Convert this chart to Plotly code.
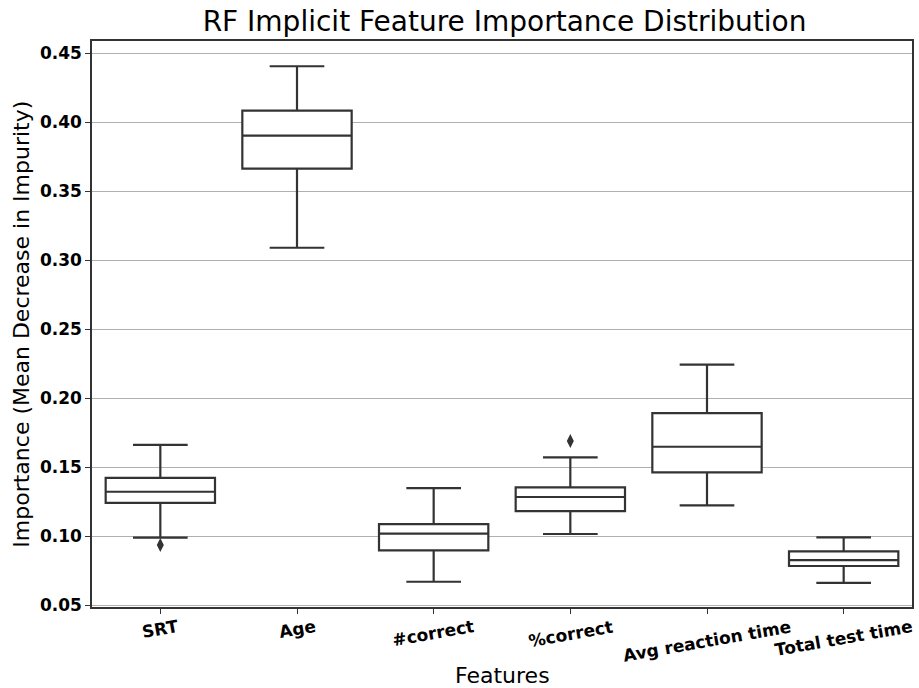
import plotly.graph_objects as go

features = ["SRT", "Age", "#correct", "%correct", "Avg reaction time", "Total test time"]
lower_whisker = [0.0988, 0.3089, 0.0669, 0.1015, 0.1222, 0.0661]
q1_vals = [0.1241, 0.3662, 0.0896, 0.1181, 0.1461, 0.0783]
medians = [0.1321, 0.3901, 0.1017, 0.1283, 0.1647, 0.0826]
q3_vals = [0.1422, 0.4082, 0.1087, 0.1353, 0.1891, 0.0889]
upper_whisker = [0.1660, 0.4404, 0.1348, 0.1570, 0.2242, 0.0991]
outlier_features = ["SRT", "%correct"]
outlier_values = [0.0935, 0.1689]
y_ticks = [0.05, 0.10, 0.15, 0.20, 0.25, 0.30, 0.35, 0.40, 0.45]

LINE = "#333333"
FONT = "DejaVu Sans"

fig = go.Figure()
fig.add_trace(go.Box(
    x=features, q1=q1_vals, median=medians, q3=q3_vals,
    lowerfence=lower_whisker, upperfence=upper_whisker,
    fillcolor="white", line=dict(color=LINE, width=2.2),
    width=0.8, whiskerwidth=0.5, boxpoints=False, showlegend=False,
))
fig.add_trace(go.Scatter(
    x=outlier_features, y=outlier_values, mode="markers",
    marker=dict(symbol="diamond-tall", size=10, color=LINE),
    showlegend=False,
))

annotations = []
for f in features:
    annotations.append(dict(
        x=f, xref="x", y=0, yref="paper", yshift=-7, yanchor="top", xanchor="center",
        text=f, textangle=-10, showarrow=False,
        font=dict(family=FONT, size=17, color="black", weight="bold"),
    ))
annotations.append(dict(
    x=-0.087, xref="paper", y=0.5, yref="paper", xanchor="center", yanchor="middle",
    text="Importance (Mean Decrease in Impurity)", textangle=-90, showarrow=False,
    font=dict(family=FONT, size=22, color="black"),
))
annotations.append(dict(
    x=0.5, xref="paper", y=-0.121, yref="paper", xanchor="center", yanchor="middle",
    text="Features", showarrow=False,
    font=dict(family=FONT, size=22, color="black"),
))

fig.update_layout(
    width=919, height=688,
    margin=dict(l=92, r=5, t=41, b=81),
    paper_bgcolor="white", plot_bgcolor="white",
    title=dict(text="RF Implicit Feature Importance Distribution",
               x=0.549, xanchor="center", y=0.983, yanchor="top",
               font=dict(family=FONT, size=28, color="black")),
    annotations=annotations,
    xaxis=dict(type="category", range=[-0.5, 5.5], showticklabels=False,
               ticks="outside", ticklen=5, tickcolor=LINE,
               showline=True, linecolor=LINE, linewidth=1.5, mirror=True,
               showgrid=False, zeroline=False),
    yaxis=dict(range=[0.0486, 0.4587], tickvals=y_ticks, tickformat=".2f",
               ticks="outside", ticklen=5, tickcolor=LINE,
               tickfont=dict(family=FONT, size=17, color="black", weight="bold"),
               showline=True, linecolor=LINE, linewidth=1.5, mirror=True,
               showgrid=True, gridcolor="#b0b0b0", gridwidth=1, zeroline=False),
)

fig.write_html("out.html")
